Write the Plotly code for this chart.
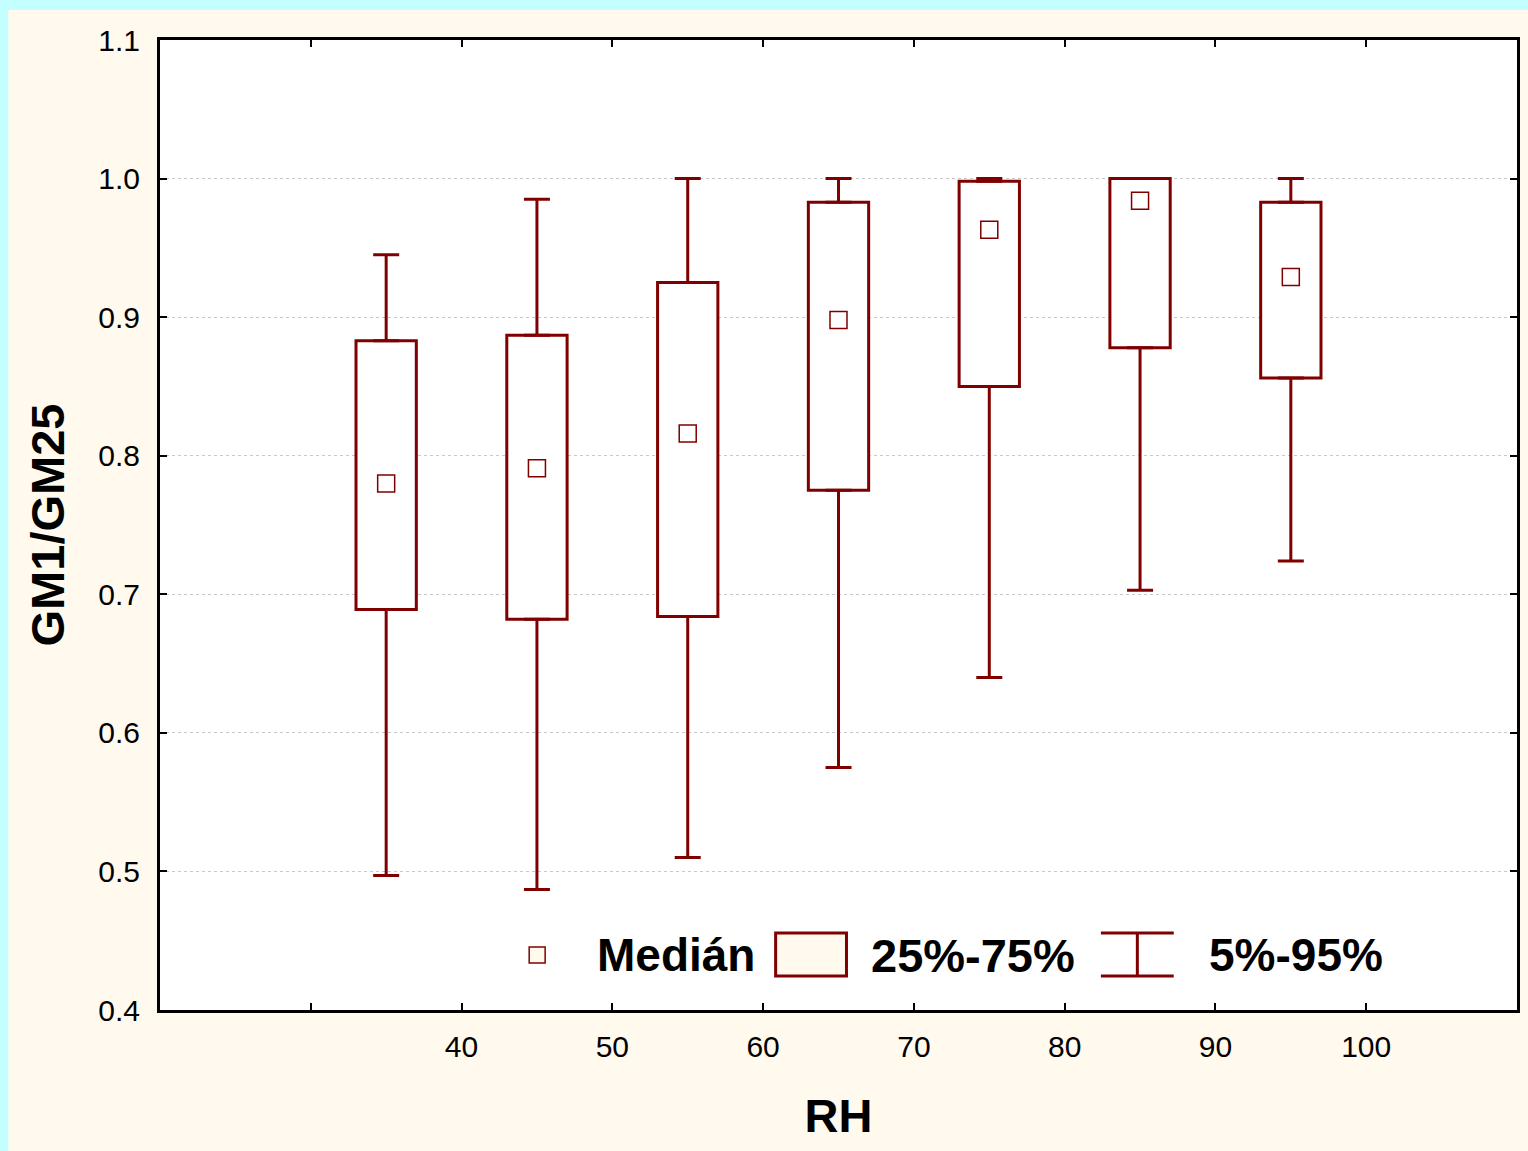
import plotly.graph_objects as go

# ---- data ----
rh = [35, 45, 55, 65, 75, 85, 95]
p05 = [0.497, 0.487, 0.510, 0.575, 0.640, 0.703, 0.724]
q25 = [0.689, 0.682, 0.684, 0.775, 0.850, 0.878, 0.856]
median = [0.780, 0.791, 0.816, 0.898, 0.963, 0.984, 0.929]
q75 = [0.883, 0.887, 0.925, 0.983, 0.998, 1.000, 0.983]
p95 = [0.945, 0.985, 1.000, 1.000, 1.000, 1.000, 1.000]
x_tickvals = [30, 40, 50, 60, 70, 80, 90, 100]
x_ticktext = ["", "40", "50", "60", "70", "80", "90", "100"]
legend_labels = ["Medián", "25%-75%", "5%-95%"]

DARKRED = "#800000"
CREAM = "#FFF9EE"
CYAN = "#C4FFFF"
FONT = "Arial, Liberation Sans, sans-serif"

W, H = 1528, 1151
L, R, T, B = 160, 8, 40, 141
PW, PH = W - L - R, H - T - B


def px(x):
    return (x - L) / PW


def py(y):
    return (H - B - y) / PH


fig = go.Figure()

# boxes (25%-75%)
fig.add_trace(go.Bar(
    x=rh, base=q25, y=[b - a for a, b in zip(q25, q75)], width=4,
    marker=dict(color="white", line=dict(color=DARKRED, width=3)),
    showlegend=False, hoverinfo="skip",
))
# upper whiskers
fig.add_trace(go.Scatter(
    x=rh, y=q75, mode="markers", marker=dict(size=1, opacity=0),
    error_y=dict(type="data", symmetric=False,
                 array=[u - q for u, q in zip(p95, q75)],
                 arrayminus=[0] * len(rh),
                 color=DARKRED, thickness=3, width=13),
    showlegend=False, hoverinfo="skip",
))
# lower whiskers
fig.add_trace(go.Scatter(
    x=rh, y=q25, mode="markers", marker=dict(size=1, opacity=0),
    error_y=dict(type="data", symmetric=False,
                 array=[0] * len(rh),
                 arrayminus=[q - l for q, l in zip(q25, p05)],
                 color=DARKRED, thickness=3, width=13),
    showlegend=False, hoverinfo="skip",
))
# medians
fig.add_trace(go.Scatter(
    x=rh, y=median, mode="markers",
    marker=dict(symbol="square-open", size=17, color=DARKRED, line=dict(width=1.5)),
    showlegend=False,
))

shapes = [
    # cyan strips on the page edges
    dict(type="rect", xref="paper", yref="paper", x0=px(-50), x1=px(8), y0=py(H + 50), y1=py(-50),
         fillcolor=CYAN, line=dict(width=0), layer="below"),
    dict(type="rect", xref="paper", yref="paper", x0=px(-50), x1=px(W + 50), y0=py(10), y1=py(-50),
         fillcolor=CYAN, line=dict(width=0), layer="below"),
    # legend: median marker
    dict(type="rect", xref="paper", yref="paper", x0=px(530), x1=px(546), y0=py(963), y1=py(947),
         fillcolor=CREAM, line=dict(color=DARKRED, width=1.5)),
    # legend: box
    dict(type="rect", xref="paper", yref="paper", x0=px(777), x1=px(848), y0=py(976), y1=py(933),
         fillcolor=CREAM, line=dict(color=DARKRED, width=3)),
    # legend: whisker
    dict(type="line", xref="paper", yref="paper", x0=px(1103), x1=px(1176), y0=py(933), y1=py(933),
         line=dict(color=DARKRED, width=3)),
    dict(type="line", xref="paper", yref="paper", x0=px(1103), x1=px(1176), y0=py(976), y1=py(976),
         line=dict(color=DARKRED, width=3)),
    dict(type="line", xref="paper", yref="paper", x0=px(1139.5), x1=px(1139.5), y0=py(933), y1=py(976),
         line=dict(color=DARKRED, width=3)),
]

leg_font = dict(family=FONT, size=46, color="black")
annotations = [
    dict(xref="paper", yref="paper", x=px(596), y=py(955), text="<b>%s</b>" % legend_labels[0],
         xanchor="left", yanchor="middle", showarrow=False, font=leg_font),
    dict(xref="paper", yref="paper", x=px(871), y=py(955), text="<b>%s</b>" % legend_labels[1],
         xanchor="left", yanchor="middle", showarrow=False, font=dict(family=FONT, size=47, color="black")),
    dict(xref="paper", yref="paper", x=px(1209), y=py(955), text="<b>%s</b>" % legend_labels[2],
         xanchor="left", yanchor="middle", showarrow=False, font=leg_font),
]

fig.update_layout(
    width=W, height=H,
    margin=dict(l=L, r=R, t=T, b=B, pad=0),
    paper_bgcolor=CREAM, plot_bgcolor="white",
    font=dict(family=FONT, color="black"),
    shapes=shapes, annotations=annotations,
    showlegend=False,
    xaxis=dict(
        range=[20, 110], tickvals=x_tickvals, ticktext=x_ticktext,
        ticks="inside", ticklen=7, tickwidth=2, tickcolor="black",
        showline=True, linewidth=3, linecolor="black", mirror="allticks",
        showgrid=False, zeroline=False,
        tickfont=dict(size=30), ticklabelstandoff=8,
        title=dict(text="<b>RH</b>", font=dict(size=47), standoff=38),
    ),
    yaxis=dict(
        range=[0.4, 1.1], dtick=0.1, tick0=0.4, tickformat=".1f",
        ticks="inside", ticklen=7, tickwidth=2, tickcolor="black",
        showline=True, linewidth=3, linecolor="black", mirror="allticks",
        showgrid=True, gridcolor="#C8C8C8", gridwidth=1, griddash="dot",
        zeroline=False,
        tickfont=dict(size=30), ticklabelstandoff=11,
        title=dict(text="<b>GM1/GM25</b>", font=dict(size=47), standoff=19),
    ),
)

fig.write_html("out.html")
